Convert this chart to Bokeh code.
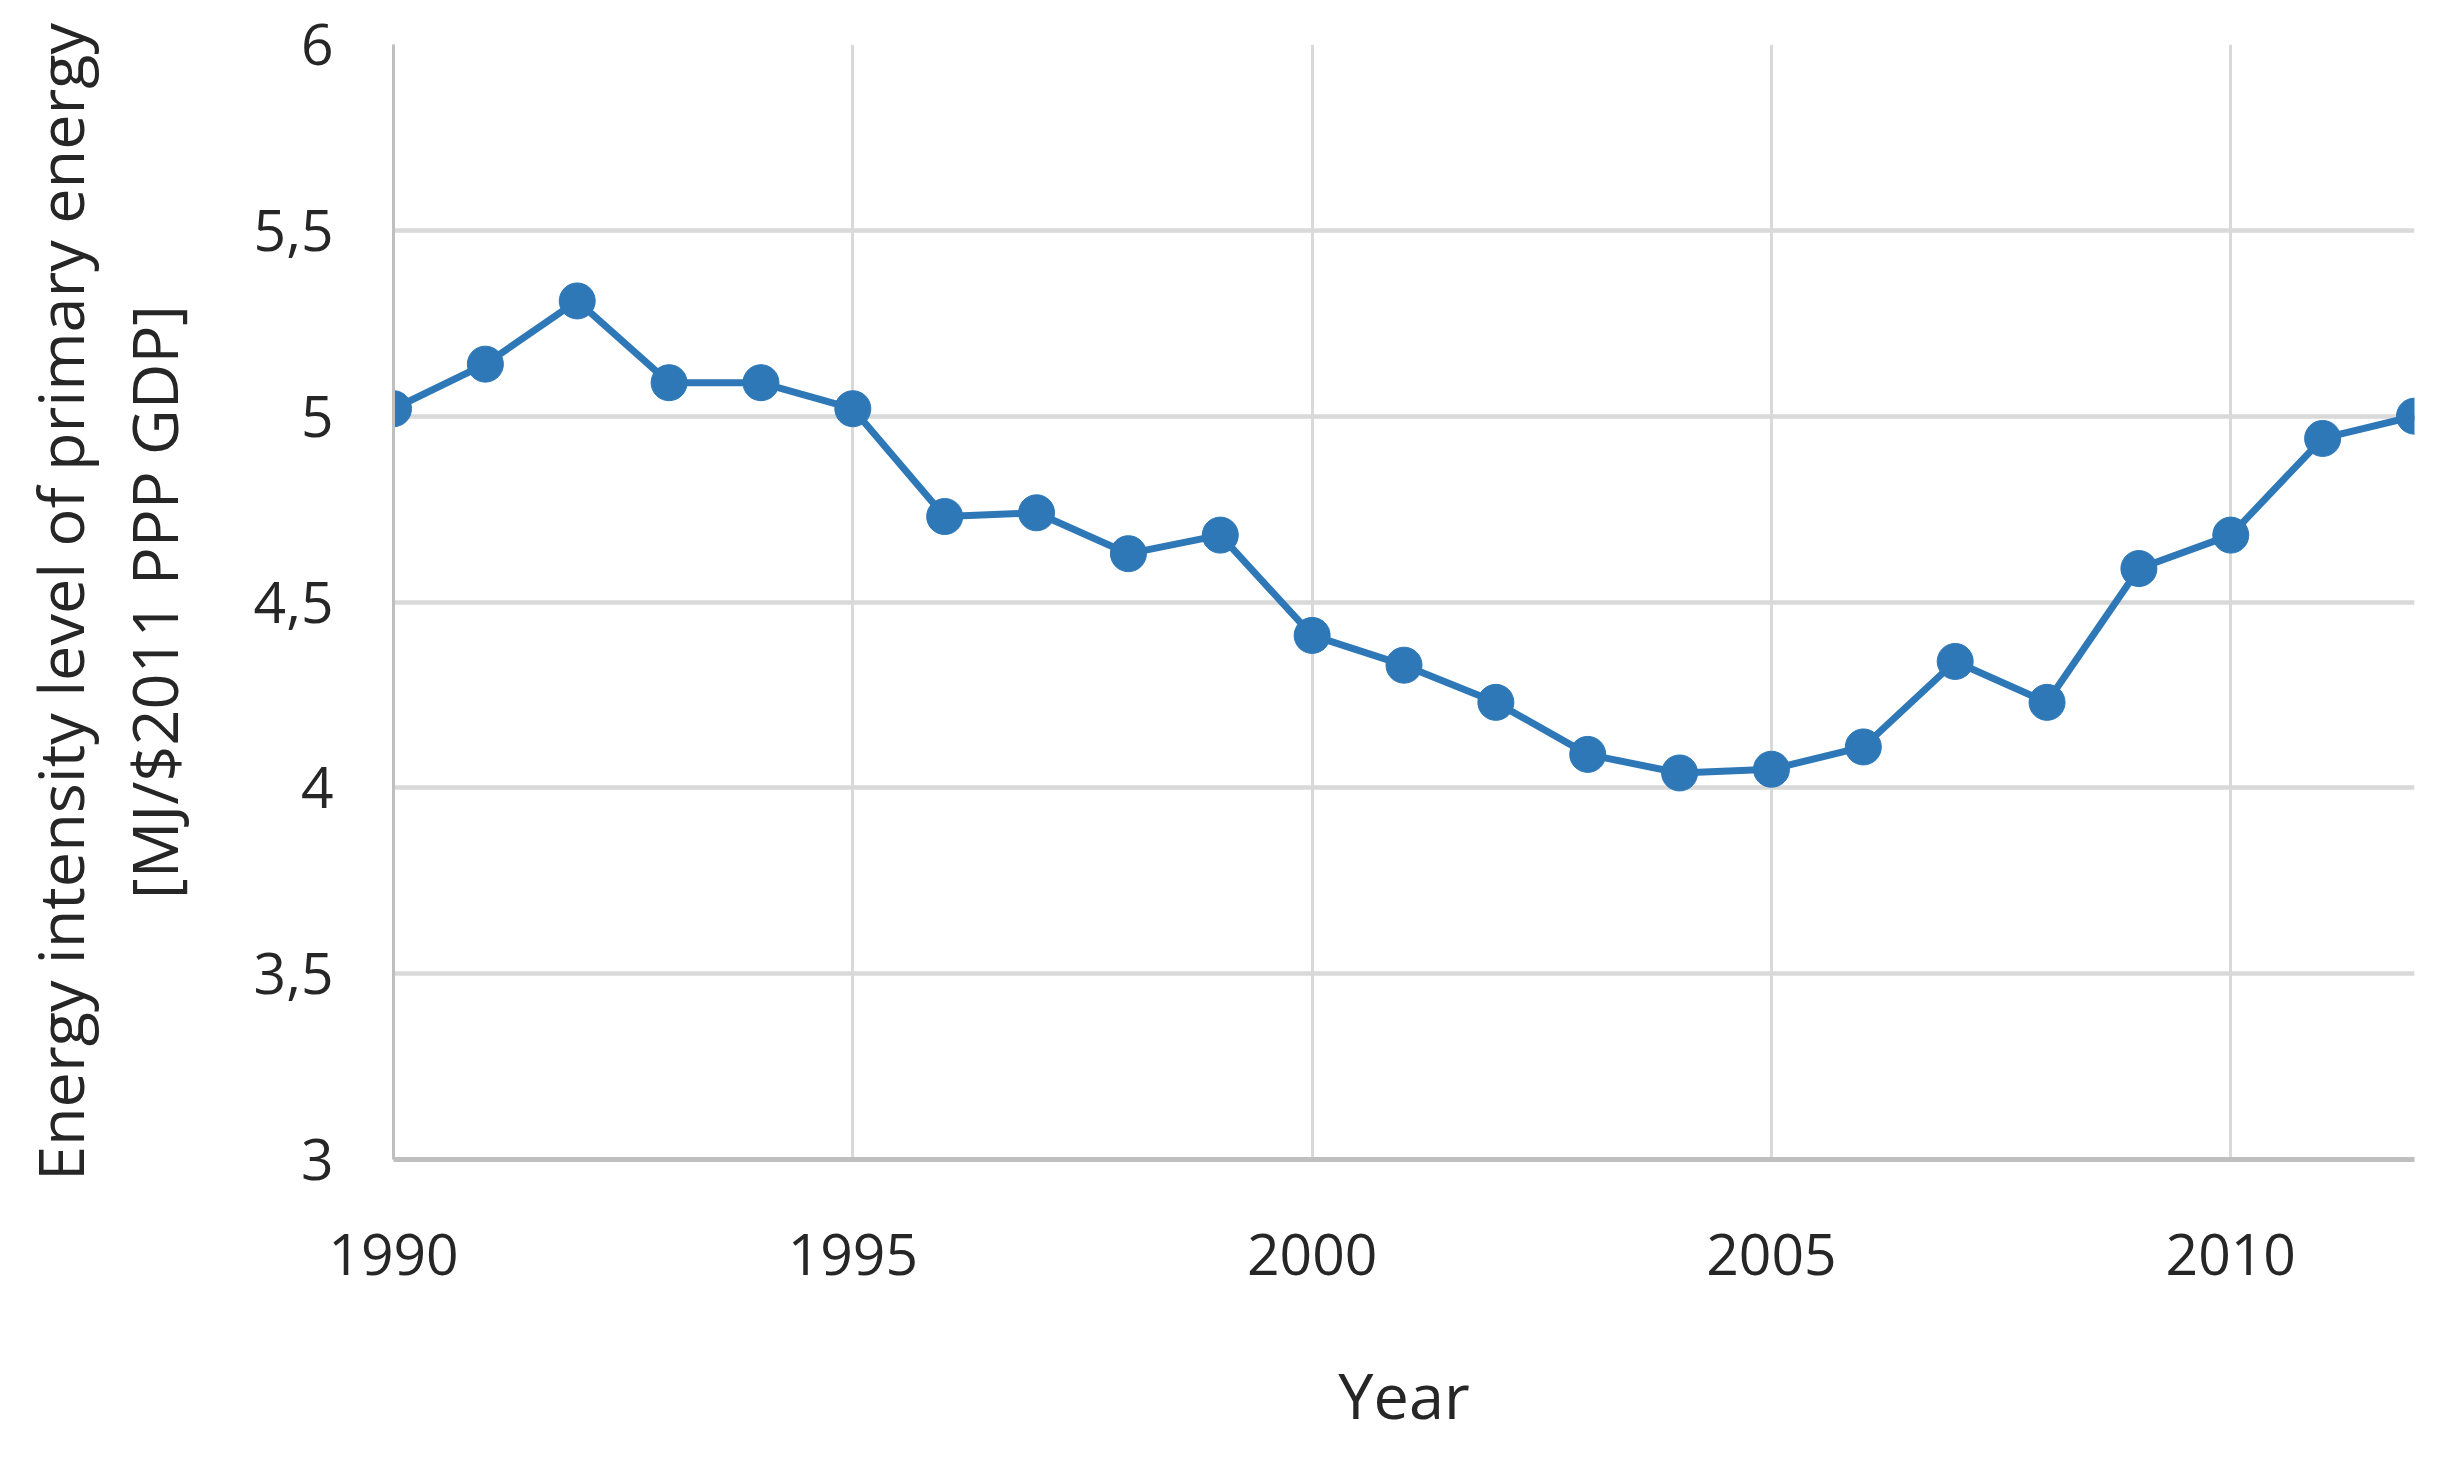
from bokeh.plotting import figure
from bokeh.models import FixedTicker, Range1d
from bokeh.embed import file_html
from bokeh.resources import INLINE

years = [1990, 1991, 1992, 1993, 1994, 1995, 1996, 1997, 1998, 1999, 2000, 2001,
         2002, 2003, 2004, 2005, 2006, 2007, 2008, 2009, 2010, 2011, 2012]
intensity = [5.02, 5.14, 5.31, 5.09, 5.09, 5.02, 4.73, 4.74, 4.63, 4.68, 4.41, 4.33,
             4.23, 4.09, 4.04, 4.05, 4.11, 4.34, 4.23, 4.59, 4.68, 4.94, 5.00]
x_ticks = [1990, 1995, 2000, 2005, 2010]
y_ticks = [3, 3.5, 4, 4.5, 5, 5.5, 6]
y_tick_labels = ["3", "3,5", "4", "4,5", "5", "5,5", "6"]

FONT = "Open Sans"
TXT = "#262626"
BLUE = "#2e78b7"

p = figure(width=2447, height=1441, output_backend="svg", toolbar_location=None,
           x_range=Range1d(1990, 2012), y_range=Range1d(3, 6),
           min_border_left=393, min_border_right=33, min_border_top=44, min_border_bottom=282)
p.outline_line_color = None
p.background_fill_color = "white"
p.border_fill_color = "white"

p.line(years, intensity, line_color=BLUE, line_width=7)
p.scatter(years, intensity, size=36, fill_color=BLUE, line_color=BLUE)

p.xaxis.ticker = FixedTicker(ticks=x_ticks)
p.yaxis.ticker = FixedTicker(ticks=y_ticks)
p.yaxis.major_label_overrides = {v: s for v, s in zip(y_ticks, y_tick_labels)}

for ax in (p.xaxis[0], p.yaxis[0]):
    ax.major_tick_line_color = None
    ax.minor_tick_line_color = None
    ax.major_tick_out = 0
    ax.major_label_text_font = FONT
    ax.major_label_text_font_size = "57px"
    ax.major_label_text_color = TXT
    ax.axis_label_text_font = FONT
    ax.axis_label_text_font_size = "63px"
    ax.axis_label_text_font_style = "normal"
    ax.axis_label_text_color = TXT
    ax.axis_line_color = "#bfbfbf"

p.xaxis.axis_line_width = 5
p.yaxis.axis_line_width = 3
p.xaxis.major_label_standoff = 74
p.yaxis.major_label_standoff = 60
p.xaxis.axis_label = "Year"
p.xaxis.axis_label_standoff = 74
p.yaxis.axis_label = "Energy intensity level of primary energy\n[MJ/$2011 PPP GDP]"
p.yaxis.axis_label_standoff = 55
p.yaxis.axis_label_text_line_height = 1.1

p.xgrid.grid_line_color = "#d9d9d9"
p.xgrid.grid_line_width = 3
p.ygrid.grid_line_color = "#d9d9d9"
p.ygrid.grid_line_width = 4.5

open("out.html", "w").write(file_html(p, INLINE))
